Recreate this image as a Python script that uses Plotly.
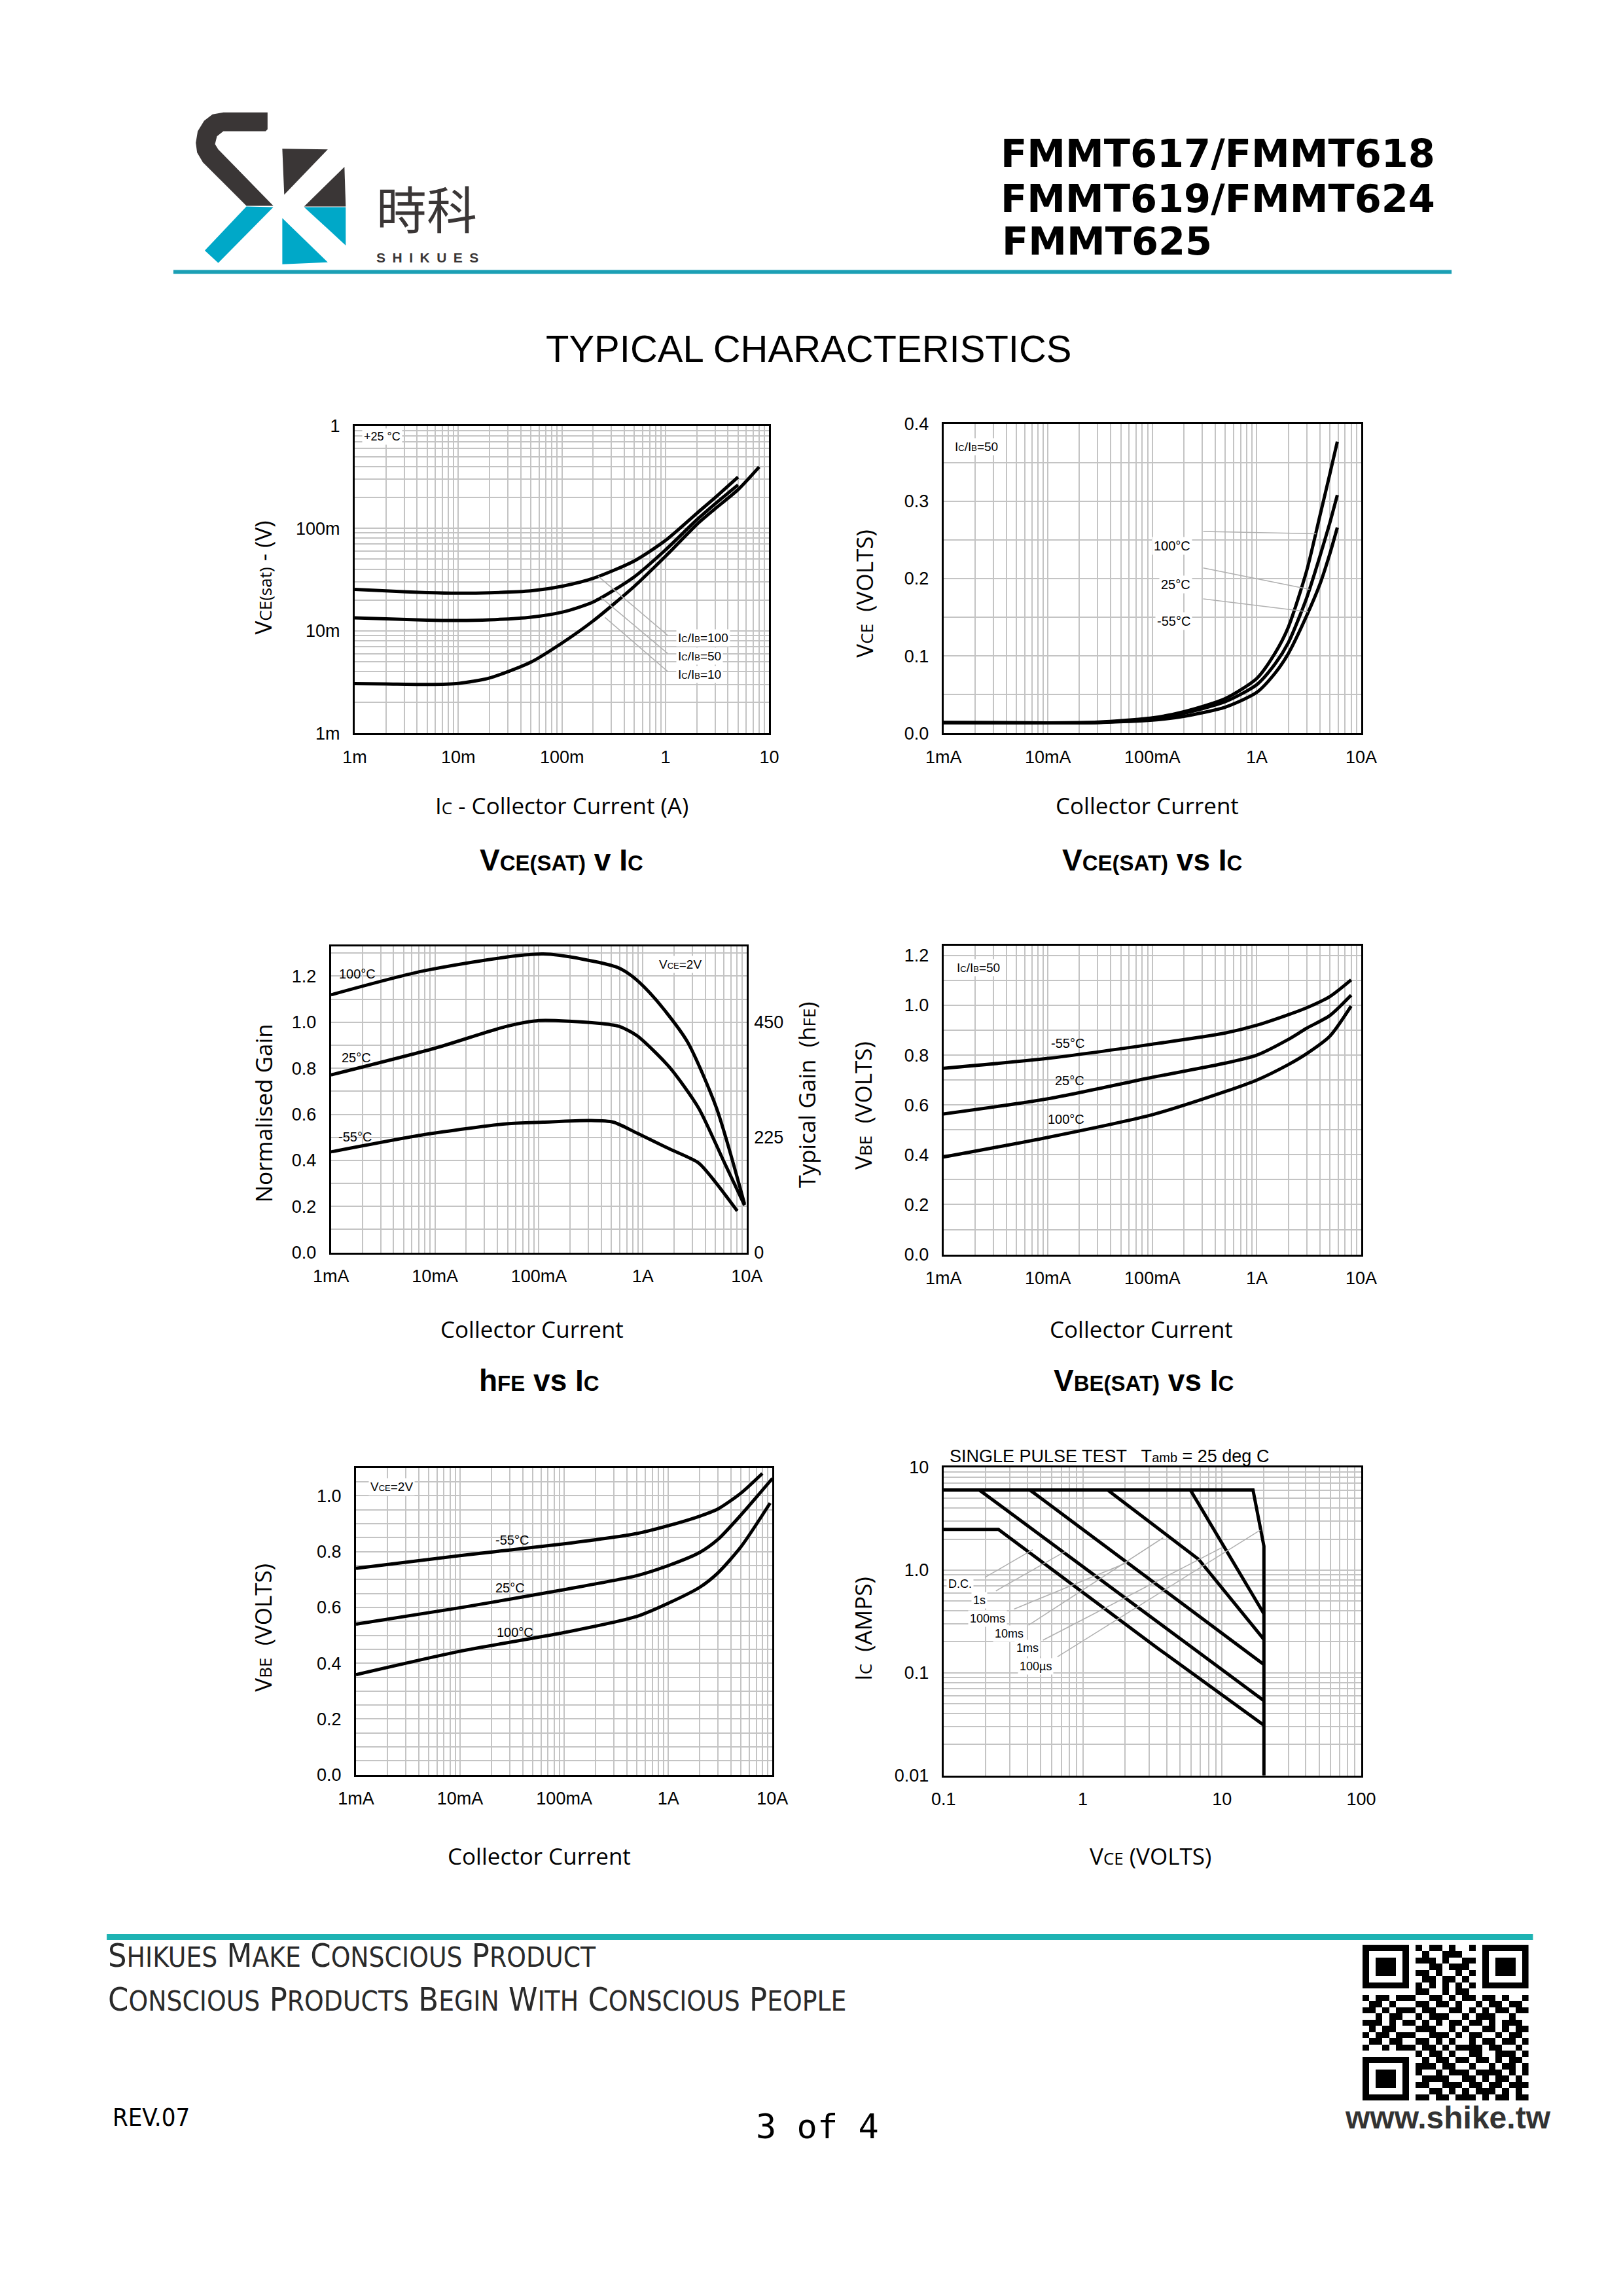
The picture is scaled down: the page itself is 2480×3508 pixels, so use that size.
import numpy as np
import plotly.graph_objects as go

W, H = 2480, 3508

# ---------------- data ----------------
# VCE(sat) v IC at +25 C, three forced-gain ratios
IC_SAT = [0.001, 0.002, 0.005, 0.01, 0.02, 0.05, 0.1, 0.2, 0.5, 1, 2, 3, 5]
VSAT_IB100 = [0.0254, 0.0245, 0.0236, 0.0233, 0.0235, 0.0245, 0.0272, 0.0325, 0.0481, 0.0763, 0.140, 0.199, 0.316]
VSAT_IB50 = [0.0134, 0.0131, 0.0127, 0.0126, 0.0128, 0.0136, 0.0152, 0.0191, 0.0337, 0.0617, 0.121, 0.173, 0.265]
IC_SAT_10 = [0.001, 0.002, 0.005, 0.01, 0.02, 0.05, 0.1, 0.2, 0.5, 1, 2, 3, 5, 8]
VSAT_IB10 = [0.00305, 0.00303, 0.0030, 0.00307, 0.00347, 0.00494, 0.0076, 0.0125, 0.0272, 0.0535, 0.109, 0.155, 0.238, 0.397]

# VCE(sat) vs IC at IC/IB=50, three temperatures
IC_TEMP = [0.001, 0.01, 0.03, 0.1, 0.2, 0.5, 1, 1.5, 2, 3, 4, 5, 5.9]
VCE_100C = [0.014, 0.0135, 0.0145, 0.020, 0.028, 0.045, 0.071, 0.104, 0.137, 0.21, 0.28, 0.335, 0.377]
VCE_25C = [0.014, 0.0135, 0.014, 0.019, 0.026, 0.041, 0.063, 0.090, 0.117, 0.175, 0.228, 0.272, 0.308]
VCE_M55C = [0.014, 0.0135, 0.014, 0.017, 0.022, 0.034, 0.053, 0.078, 0.103, 0.152, 0.192, 0.232, 0.266]

# hFE vs IC (normalised gain), VCE=2V
HFE_100_IC = [0.001, 0.0082, 0.11, 0.545, 0.75, 1.03, 1.54, 2.69, 5.1, 9.5]
HFE_100 = [1.119, 1.225, 1.296, 1.241, 1.207, 1.153, 1.064, 0.914, 0.628, 0.211]
HFE_25_IC = [0.001, 0.01, 0.049, 0.101, 0.365, 0.59, 0.88, 1.8, 3.43, 6.0, 9.5]
HFE_25 = [0.771, 0.887, 0.982, 1.007, 0.996, 0.982, 0.941, 0.805, 0.628, 0.396, 0.205]
HFE_M55_IC = [0.001, 0.0079, 0.049, 0.11, 0.31, 0.52, 0.88, 1.8, 3.43, 5.1, 8.1]
HFE_M55 = [0.437, 0.512, 0.559, 0.566, 0.573, 0.566, 0.518, 0.45, 0.389, 0.30, 0.18]
HFE_TYPICAL_AT_1 = 450
HFE_RIGHT_TICKS = [0, 225, 450]

# VBE(sat) vs IC at IC/IB=50
IC_VBESAT = [0.001, 0.01, 0.1, 0.5, 1, 2, 3, 5, 8]
VBESAT_M55 = [0.747, 0.787, 0.844, 0.889, 0.92, 0.962, 0.99, 1.035, 1.102]
VBESAT_25 = [0.564, 0.625, 0.711, 0.768, 0.80, 0.863, 0.908, 0.959, 1.041]
VBESAT_100 = [0.391, 0.47, 0.561, 0.654, 0.70, 0.762, 0.806, 0.876, 0.997]

# VBE(on) vs IC at VCE=2V
VBEON_M55_IC = [0.001, 0.01, 0.1, 0.5, 1, 2, 3, 5, 8]
VBEON_M55 = [0.74, 0.786, 0.828, 0.865, 0.893, 0.927, 0.953, 1.01, 1.08]
VBEON_25_IC = [0.001, 0.01, 0.1, 0.5, 1, 2, 3, 5, 10]
VBEON_25 = [0.54, 0.599, 0.664, 0.714, 0.75, 0.797, 0.844, 0.932, 1.0625]
VBEON_100_IC = [0.001, 0.01, 0.1, 0.5, 1, 2, 3, 5, 9.5]
VBEON_100 = [0.359, 0.443, 0.51, 0.568, 0.615, 0.672, 0.724, 0.818, 0.974]

# safe operating area, single pulse, Tamb=25C
SOA_100US_V = [0.1, 16.7, 20, 20]
SOA_100US_I = [6, 6, 1.7, 0.01]
SOA_1MS_V = [5.93, 20]
SOA_1MS_I = [6, 0.374]
SOA_10MS_V = [1.51, 6.8, 20]
SOA_10MS_I = [6, 1.27, 0.211]
SOA_100MS_V = [0.418, 20]
SOA_100MS_I = [6, 0.12]
SOA_1S_V = [0.181, 20]
SOA_1S_I = [6, 0.0535]
SOA_DC_V = [0.1, 0.248, 3.46, 20]
SOA_DC_I = [2.48, 2.48, 0.173, 0.0308]

LOG_LABELS_SAT_X = ["1m", "10m", "100m", "1", "10"]
LOG_LABELS_SAT_Y = ["1m", "10m", "100m", "1"]
LOG_LABELS_AMPS = ["1mA", "10mA", "100mA", "1A", "10A"]
LOG_LABELS_SOA_X = ["0.1", "1", "10", "100"]
LOG_LABELS_SOA_Y = ["0.01", "0.1", "1.0", "10"]

QR_ROWS = [
    "1111111010110100101111111",
    "1000001001001110001000001",
    "1011101011101001101011101",
    "1011101000110111001011101",
    "1011101011010010101011101",
    "1000001001101101001000001",
    "1111111010101010101111111",
    "0000000011001011000000000",
    "1011011100110101101101001",
    "0110100011011010010110110",
    "1101011101100110101011011",
    "0010110010111001011100100",
    "1110101101010110110101110",
    "0101100011100101001101011",
    "1011011100111010110010110",
    "0110110011010100101101101",
    "1001011101101011110110010",
    "0000000010110100110011101",
    "1111111001011011011010110",
    "1000001011101100100101101",
    "1011101010010111011110101",
    "1011101001111001101011010",
    "1011101011001110110110111",
    "1000001000110101011101010",
    "1111111011011011101011011",
]

TICK_FONT = "Liberation Sans, Arial, Helvetica, sans-serif"
LABEL_FONT = "Open Sans, Liberation Sans, sans-serif"
NARROW_FONT = "Liberation Sans Narrow, Arial Narrow, DejaVu Sans Condensed, Liberation Sans, sans-serif"
GRID = "#c4c4c4"
TEAL_TOP = "#1b9fb4"
TEAL_BOTTOM = "#1eb3b3"
LOGO_DARK = "#3a3636"
LOGO_TEAL = "#00a8c8"


def px(x):
    return x / W


def py(y):
    return 1 - y / H


def log_ticks(lo, hi, labels):
    vals, text = [], []
    for e in range(lo, hi):
        for d in range(1, 10):
            vals.append(d * 10.0 ** e)
            text.append(labels[e - lo] if d == 1 else "")
    vals.append(10.0 ** hi)
    text.append(labels[-1])
    return vals, text


def lin_ticks(top, step, label_every, fmt="{:.1f}"):
    n = int(round(top / step))
    vals = [round(i * step, 3) for i in range(n + 1)]
    text = [fmt.format(v) if i % label_every == 0 else "" for i, v in enumerate(vals)]
    return vals, text


def axis(l_or_t, r_or_b, anchor, vertical, **kw):
    if vertical:
        dom = [py(r_or_b), py(l_or_t)]
    else:
        dom = [px(l_or_t), px(r_or_b)]
    d = dict(domain=dom, anchor=anchor, showline=True, mirror=True, linecolor="black",
             linewidth=3, ticks="", showgrid=True, gridcolor=GRID, gridwidth=1.5,
             zeroline=False, fixedrange=True, ticklabelstandoff=14 if vertical else 10,
             tickfont=dict(family=TICK_FONT, size=27, color="black"))
    d.update(kw)
    return d


def log_axis(l_or_t, r_or_b, anchor, vertical, lo, hi, labels):
    vals, text = log_ticks(lo, hi, labels)
    return axis(l_or_t, r_or_b, anchor, vertical, type="log", range=[lo, hi],
                tickmode="array", tickvals=vals, ticktext=text)


def lin_axis(l_or_t, r_or_b, anchor, top, step, every, rng_top):
    vals, text = lin_ticks(top, step, every)
    return axis(l_or_t, r_or_b, anchor, True, range=[0, rng_top], tickmode="array",
                tickvals=vals, ticktext=text)


def note(x, y, text, size=19, xanchor="center", family=TICK_FONT, angle=0, bg=None,
         color="black", yanchor="middle"):
    d = dict(x=px(x), y=py(y), xref="paper", yref="paper", text=text, showarrow=False,
             xanchor=xanchor, yanchor=yanchor, textangle=angle,
             font=dict(family=family, size=size, color=color))
    if bg:
        d.update(bgcolor=bg, borderpad=2)
    return d


def leader(xa, ya, tip, tail, logy=True):
    fy = np.log10 if logy else (lambda v: v)
    return dict(x=float(np.log10(tip[0])), y=float(fy(tip[1])),
                ax=float(np.log10(tail[0])), ay=float(fy(tail[1])),
                xref=xa, yref=ya, axref=xa, ayref=ya, text="", showarrow=True,
                arrowhead=0, arrowwidth=1.5, arrowcolor="#b0b0b0", standoff=0, startstandoff=0)


def sm(t, size):
    return f"<span style='font-size:{size}px'>{t}</span>"


def small_caps(words, small):
    return " ".join(w[0] + sm(w[1:], small) for w in words.split(" "))


def poly(points, color):
    path = "M " + " L ".join(f"{px(x):.5f},{py(y):.5f}" for x, y in points) + " Z"
    return dict(type="path", xref="paper", yref="paper", path=path,
                fillcolor=color, line=dict(width=0), layer="above")


def curve(x, y, xa, ya, spline=True):
    return go.Scatter(x=x, y=y, mode="lines", xaxis=xa, yaxis=ya, hoverinfo="skip",
                      showlegend=False,
                      line=dict(color="black", width=5,
                                shape="spline" if spline else "linear", smoothing=0.7))


fig = go.Figure()

# chart 1
for yv, xv in [(VSAT_IB100, IC_SAT), (VSAT_IB50, IC_SAT), (VSAT_IB10, IC_SAT_10)]:
    fig.add_trace(curve(xv, yv, "x", "y"))
# chart 2
for yv in [VCE_100C, VCE_25C, VCE_M55C]:
    fig.add_trace(curve(IC_TEMP, yv, "x2", "y2"))
# chart 3
for xv, yv in [(HFE_100_IC, HFE_100), (HFE_25_IC, HFE_25), (HFE_M55_IC, HFE_M55)]:
    fig.add_trace(curve(xv, yv, "x3", "y3"))
fig.add_trace(go.Scatter(x=[], y=[], xaxis="x3", yaxis="y7", showlegend=False))
# chart 4
for yv in [VBESAT_M55, VBESAT_25, VBESAT_100]:
    fig.add_trace(curve(IC_VBESAT, yv, "x4", "y4"))
# chart 5
for xv, yv in [(VBEON_M55_IC, VBEON_M55), (VBEON_25_IC, VBEON_25), (VBEON_100_IC, VBEON_100)]:
    fig.add_trace(curve(xv, yv, "x5", "y5"))
# chart 6
for xv, yv in [(SOA_100US_V, SOA_100US_I), (SOA_1MS_V, SOA_1MS_I), (SOA_10MS_V, SOA_10MS_I),
               (SOA_100MS_V, SOA_100MS_I), (SOA_1S_V, SOA_1S_I), (SOA_DC_V, SOA_DC_I)]:
    fig.add_trace(curve(xv, yv, "x6", "y6", spline=False))
# QR code
fig.add_trace(go.Heatmap(z=[[int(c) for c in r] for r in QR_ROWS], xaxis="x8", yaxis="y8",
                         colorscale=[[0, "white"], [1, "black"]], showscale=False,
                         hoverinfo="skip", xgap=0, ygap=0))

Y3_TOP = 1.33
layout_axes = dict(
    xaxis=log_axis(525, 1172, "y", False, -3, 1, LOG_LABELS_SAT_X),
    yaxis=log_axis(641, 1115, "x", True, -3, 0, LOG_LABELS_SAT_Y),
    xaxis2=log_axis(1444, 2096, "y2", False, -3, 1, LOG_LABELS_AMPS),
    yaxis2=lin_axis(638, 1115, "x2", 0.4, 0.05, 2, 0.4),
    xaxis3=log_axis(488, 1137, "y3", False, -3, 1, LOG_LABELS_AMPS),
    yaxis3=lin_axis(1443, 1915, "x3", 1.3, 0.1, 2, Y3_TOP),
    yaxis7=dict(overlaying="y3", side="right", anchor="x3",
                range=[0, Y3_TOP * HFE_TYPICAL_AT_1], tickmode="array",
                tickvals=HFE_RIGHT_TICKS, ticktext=[str(v) for v in HFE_RIGHT_TICKS],
                showgrid=False, showline=False, zeroline=False, ticks="",
                ticklabelstandoff=10, fixedrange=True,
                tickfont=dict(family=TICK_FONT, size=27, color="black")),
    xaxis4=log_axis(1444, 2096, "y4", False, -3, 1, LOG_LABELS_AMPS),
    yaxis4=lin_axis(1442, 1918, "x4", 1.2, 0.1, 2, 1.24),
    xaxis5=log_axis(527, 1177, "y5", False, -3, 1, LOG_LABELS_AMPS),
    yaxis5=lin_axis(2247, 2720, "x5", 1.1, 0.05, 4, 1.1),
    xaxis6=log_axis(1444, 2096, "y6", False, -1, 2, LOG_LABELS_SOA_X),
    yaxis6=log_axis(2246, 2721, "x6", True, -2, 1, LOG_LABELS_SOA_Y),
    xaxis8=dict(domain=[px(2098), px(2357)], anchor="y8", visible=False, fixedrange=True),
    yaxis8=dict(domain=[py(3222), py(2982)], anchor="x8", visible=False,
                autorange="reversed", fixedrange=True),
)

BIG_T, SMALL_T = 46, 33
AX_T, AX_S = 35, 26
ann = []

# header
ann += [
    note(1531, 221, "<b>FMMT617/FMMT618</b>", 59, "left", "DejaVu Sans, sans-serif"),
    note(1531, 291, "<b>FMMT619/FMMT624</b>", 59, "left", "DejaVu Sans, sans-serif"),
    note(1533, 357, "<b>FMMT625</b>", 59, "left", "DejaVu Sans, sans-serif"),
    note(557, 304, "時科", 77, "left", "Noto Sans CJK TC, Noto Sans CJK SC, sans-serif", color=LOGO_DARK),
    note(557, 382, "<b>S\u2002H\u2002I\u2002K\u2002U\u2002E\u2002S</b>", 21, "left", TICK_FONT, color=LOGO_DARK),
    note(1234, 522, "TYPICAL CHARACTERISTICS", 58, "center", TICK_FONT),
]

# chart 1
ann += [
    note(382, 875, "V" + sm("CE(sat)", AX_S) + " - (V)", AX_T, family=LABEL_FONT, angle=-90),
    note(848, 1226, "I" + sm("C", AX_S) + " - Collector Current (A)", AX_T, family=LABEL_FONT),
    note(848, 1310, "<b>V" + sm("CE(SAT)", SMALL_T) + " v I" + sm("C", SMALL_T) + "</b>", BIG_T),
    note(536, 658, "+25 °C", 18, "left", bg="white"),
    note(1027, 968, "I" + sm("C", 13) + "/I" + sm("B", 13) + "=100", 19, "left", bg="white"),
    note(1027, 996, "I" + sm("C", 13) + "/I" + sm("B", 13) + "=50", 19, "left", bg="white"),
    note(1027, 1024, "I" + sm("C", 13) + "/I" + sm("B", 13) + "=10", 19, "left", bg="white"),
    leader("x", "y", (0.224, 0.034), (1.07, 0.00887)),
    leader("x", "y", (0.24, 0.021), (1.07, 0.0059)),
    leader("x", "y", (0.26, 0.0135), (1.07, 0.00394)),
]

# chart 2
ann += [
    note(1320, 900, "V" + sm("CE", AX_S) + "  (VOLTS)", AX_T, family=LABEL_FONT, angle=-90),
    note(1762, 1226, "Collector Current", AX_T, family=LABEL_FONT),
    note(1770, 1310, "<b>V" + sm("CE(SAT)", SMALL_T) + " vs I" + sm("C", SMALL_T) + "</b>", BIG_T),
    note(1459, 673, "I" + sm("C", 13) + "/I" + sm("B", 13) + "=50", 19, "left", bg="white"),
    note(1832, 826, "100°C", 20, "right", bg="white"),
    note(1832, 886, "25°C", 20, "right", bg="white"),
    note(1832, 942, "-55°C", 20, "right", bg="white"),
    leader("x2", "y2", (3.7, 0.258), (0.30, 0.261), logy=False),
    leader("x2", "y2", (3.2, 0.186), (0.30, 0.214), logy=False),
    leader("x2", "y2", (3.1, 0.157), (0.30, 0.174), logy=False),
]

# chart 3
ann += [
    note(382, 1700, "Normalised Gain", AX_T, family=LABEL_FONT, angle=-90),
    note(1230, 1672, "Typical Gain  (h" + sm("FE", AX_S) + ")", AX_T, family=LABEL_FONT, angle=-90),
    note(802, 2033, "Collector Current", AX_T, family=LABEL_FONT),
    note(813, 2112, "<b>h" + sm("FE", SMALL_T) + " vs I" + sm("C", SMALL_T) + "</b>", BIG_T),
    note(997, 1471, "V" + sm("CE", 13) + "=2V", 19, "left", bg="white"),
    note(498, 1486, "100°C", 20, "left"),
    note(503, 1615, "25°C", 20, "left"),
    note(497, 1737, "-55°C", 20, "left"),
]

# chart 4
ann += [
    note(1318, 1688, "V" + sm("BE", AX_S) + "  (VOLTS)", AX_T, family=LABEL_FONT, angle=-90),
    note(1753, 2033, "Collector Current", AX_T, family=LABEL_FONT),
    note(1756, 2112, "<b>V" + sm("BE(SAT)", SMALL_T) + " vs I" + sm("C", SMALL_T) + "</b>", BIG_T),
    note(1462, 1476, "I" + sm("C", 13) + "/I" + sm("B", 13) + "=50", 19, "left", bg="white"),
    note(1666, 1593, "-55°C", 20, "right"),
    note(1666, 1650, "25°C", 20, "right"),
    note(1666, 1710, "100°C", 20, "right"),
]

# chart 5
ann += [
    note(382, 2493, "V" + sm("BE", AX_S) + "  (VOLTS)", AX_T, family=LABEL_FONT, angle=-90),
    note(813, 2845, "Collector Current", AX_T, family=LABEL_FONT),
    note(546, 2276, "V" + sm("CE", 13) + "=2V", 19, "left", bg="white"),
    note(743, 2358, "-55°C", 20, "left"),
    note(743, 2432, "25°C", 20, "left"),
    note(745, 2500, "100°C", 20, "left"),
]

# chart 6
ann += [
    note(1318, 2495, "I" + sm("C", AX_S) + "  (AMPS)", AX_T, family=LABEL_FONT, angle=-90),
    note(1767, 2845, "V" + sm("CE", AX_S) + " (VOLTS)", AX_T, family=LABEL_FONT),
    note(1451, 2229, "SINGLE PULSE TEST   T" + sm("amb", 20) + " = 25 deg C", 27, "left"),
    note(1448, 2426, "D.C.", 18, "left", bg="white"),
    note(1487, 2451, "1s", 18, "left", bg="white"),
    note(1482, 2479, "100ms", 18, "left", bg="white"),
    note(1521, 2502, "10ms", 18, "left", bg="white"),
    note(1555, 2525, "1ms", 18, "left", bg="white"),
    note(1560, 2553, "100µs", 18, "left", bg="white"),
    leader("x6", "y6", (0.438, 1.58), (0.195, 0.836)),
    leader("x6", "y6", (0.752, 1.52), (0.234, 0.618)),
    leader("x6", "y6", (2.08, 1.18), (0.316, 0.413)),
    leader("x6", "y6", (3.78, 2.06), (0.401, 0.286)),
    leader("x6", "y6", (9.86, 1.64), (0.509, 0.205)),
    leader("x6", "y6", (18.8, 2.44), (0.647, 0.141)),
]

# footer
ann += [
    note(138, 2999, small_caps("SHIKUES MAKE CONSCIOUS PRODUCT", 42), 50, "left", NARROW_FONT, color="#2a2a2a"),
    note(138, 3066, small_caps("CONSCIOUS PRODUCTS BEGIN WITH CONSCIOUS PEOPLE", 42), 50, "left", NARROW_FONT, color="#2a2a2a"),
    note(145, 3248, "REV.07", 38, "left", NARROW_FONT),
    note(1247, 3262, "3 of 4", 52, "center", "DejaVu Sans Mono, monospace"),
    note(2231, 3248, "<b>www.shike.tw</b>", 48, "center", TICK_FONT, color="#333333"),
]

shapes = [
    dict(type="line", xref="paper", yref="paper", x0=px(242), x1=px(2237), y0=py(404), y1=py(404),
         line=dict(color=TEAL_TOP, width=6)),
    dict(type="line", xref="paper", yref="paper", x0=px(138), x1=px(2364), y0=py(2970), y1=py(2970),
         line=dict(color=TEAL_BOTTOM, width=9)),
    # dark hook of the logo, rounded at its upper left
    poly([(389, 158), (389, 184), (386, 187), (320, 187), (310, 195), (307, 207), (312, 215),
          (398, 302), (356, 302), (288, 235), (279, 220), (277, 205), (280, 187), (290, 171),
          (303, 161), (320, 158)], LOGO_DARK),
    poly([(412, 214), (483, 215), (415, 285)], LOGO_DARK),
    poly([(509, 242), (511, 303), (446, 303)], LOGO_DARK),
    poly([(356, 303), (398, 304), (312, 390), (291, 371)], LOGO_TEAL),
    poly([(412, 321), (412, 392), (483, 389)], LOGO_TEAL),
    poly([(446, 304), (511, 304), (511, 363)], LOGO_TEAL),
]

fig.update_layout(
    width=W, height=H, margin=dict(l=0, r=0, t=0, b=0),
    paper_bgcolor="white", plot_bgcolor="white", showlegend=False,
    annotations=ann, shapes=shapes, **layout_axes,
)

# no mode bar, and drop the browser's default 8px body margin so the page lines up with the sheet
fig.write_html("out.html", config={"displayModeBar": False},
               post_script="document.body.style.margin='0';")
